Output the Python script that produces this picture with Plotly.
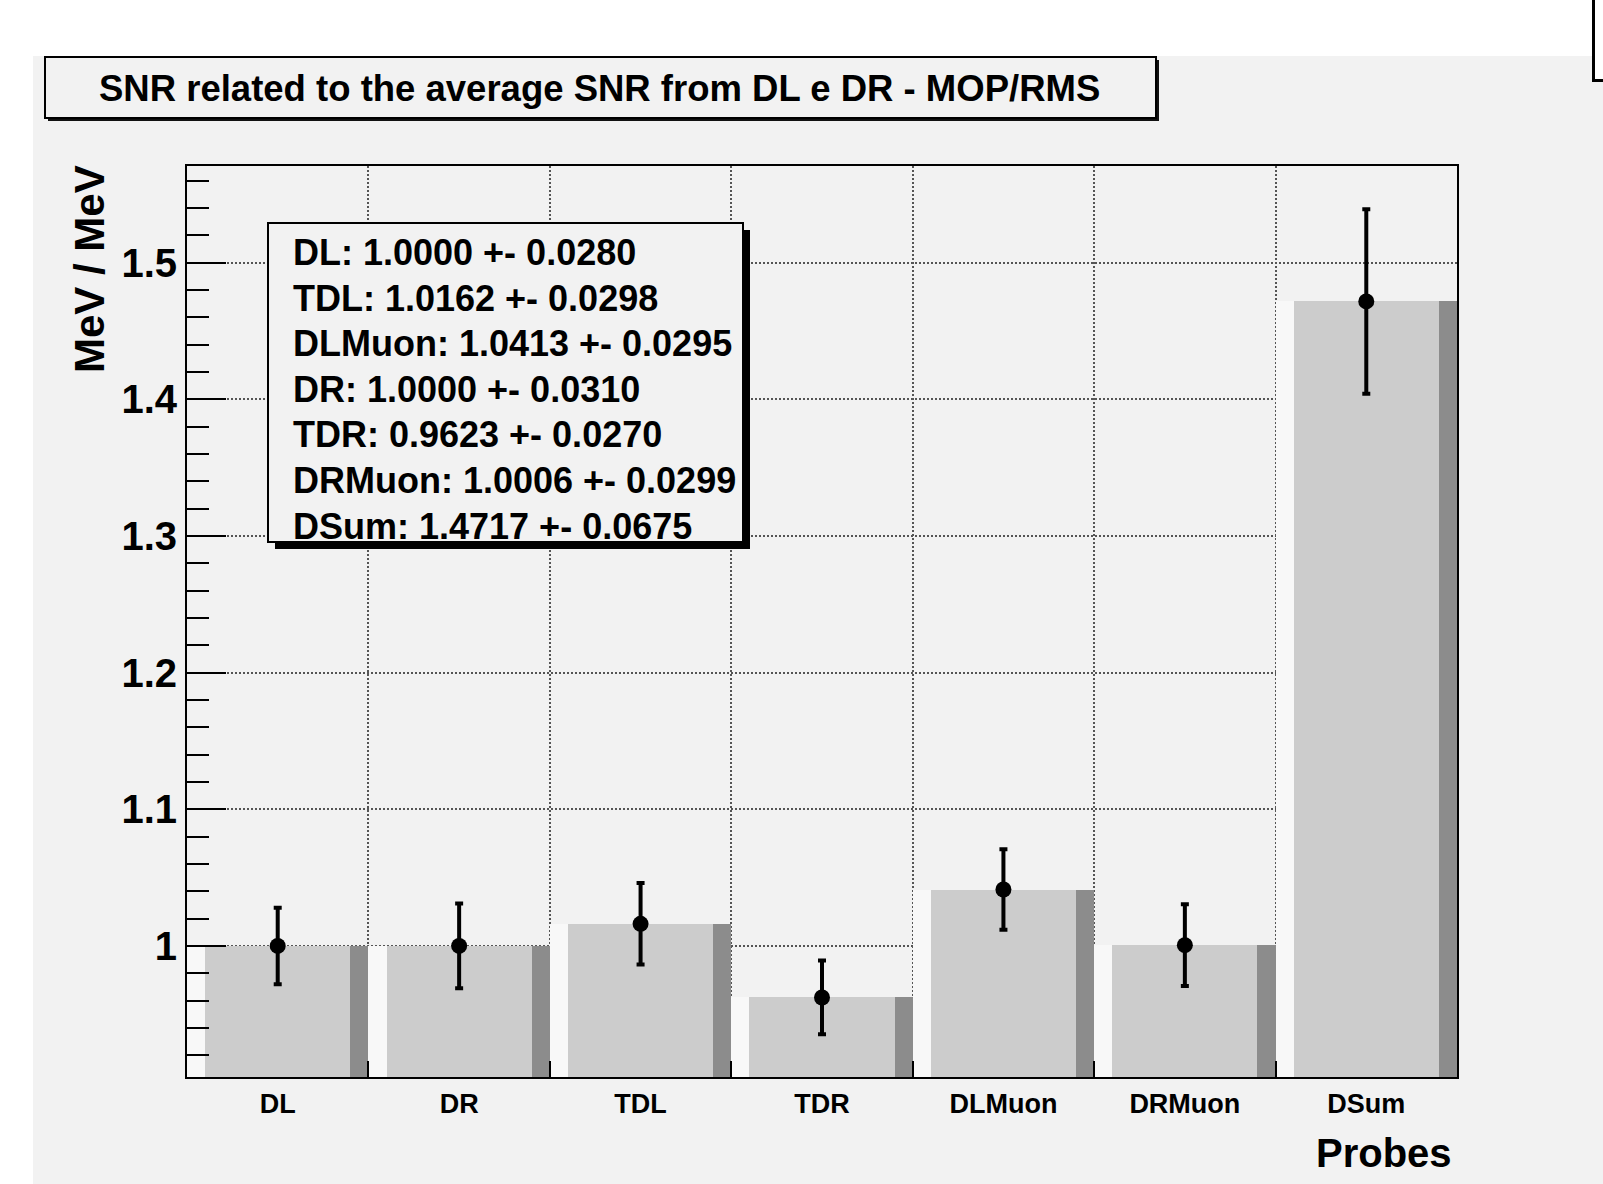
import plotly.graph_objects as go

# ---------------- data ----------------
categories = ["DL", "DR", "TDL", "TDR", "DLMuon", "DRMuon", "DSum"]
values = [1.0000, 1.0000, 1.0162, 0.9623, 1.0413, 1.0006, 1.4717]
errors = [0.0280, 0.0310, 0.0298, 0.0270, 0.0295, 0.0299, 0.0675]
stats_order = ["DL", "TDL", "DLMuon", "DR", "TDR", "DRMuon", "DSum"]
y_range = [0.9041, 1.5708]
title_text = "SNR related to the average SNR from DL e DR - MOP/RMS"
y_title = "MeV / MeV"
x_title = "Probes"

# ---------------- layout geometry (pixels) ----------------
W, H = 1603, 1184
L, R, T, B = 187, 1457, 166, 1077
PW, PH = R - L, B - T


def px(x):
    return (x - L) / PW


def py(y):
    return (B - y) / PH


BG = "#f2f2f2"
FONT = "Liberation Sans, Arial, Helvetica, sans-serif"

n = len(categories)
centers = [i + 0.5 for i in range(n)]
edges_inner = [i for i in range(1, n)]

fig = go.Figure()

# ROOT-style 3D bars: light left strip, main body, dark right strip
fig.add_trace(go.Bar(x=[i + 0.05 for i in range(n)], y=values, width=0.1,
                     marker=dict(color="#f8f8f8", line=dict(width=0)),
                     hoverinfo="skip", showlegend=False))
fig.add_trace(go.Bar(x=centers, y=values, width=0.8,
                     marker=dict(color="#cccccc", line=dict(width=0)),
                     showlegend=False))
fig.add_trace(go.Bar(x=[i + 0.95 for i in range(n)], y=values, width=0.1,
                     marker=dict(color="#8c8c8c", line=dict(width=0)),
                     hoverinfo="skip", showlegend=False))

fig.add_trace(go.Scatter(
    x=centers, y=values, mode="markers",
    marker=dict(color="black", size=16, symbol="circle"),
    error_y=dict(type="data", array=errors, visible=True,
                 color="black", thickness=4, width=4),
    showlegend=False))

shapes = [
    # grey canvas
    dict(type="rect", xref="paper", yref="paper",
         x0=px(33), x1=px(W + 20), y0=py(56), y1=py(H + 20),
         fillcolor=BG, line=dict(width=0), layer="below"),
    # cut-off box in top-right corner
    dict(type="rect", xref="paper", yref="paper",
         x0=px(1593.5), x1=px(W + 20), y0=py(80.5), y1=py(-20),
         fillcolor="white", line=dict(color="black", width=3), layer="above"),
    # title box shadow + box
    dict(type="rect", xref="paper", yref="paper",
         x0=px(48), x1=px(1159), y0=py(121), y1=py(60),
         fillcolor="#111111", line=dict(width=0), layer="above"),
    dict(type="rect", xref="paper", yref="paper",
         x0=px(45), x1=px(1156), y0=py(118), y1=py(57),
         fillcolor=BG, line=dict(color="black", width=2), layer="above"),
    # stats box shadow + box
    dict(type="rect", xref="paper", yref="paper",
         x0=px(275), x1=px(750), y0=py(549), y1=py(230),
         fillcolor="black", line=dict(width=0), layer="above"),
    dict(type="rect", xref="paper", yref="paper",
         x0=px(268), x1=px(743), y0=py(542), y1=py(223),
         fillcolor=BG, line=dict(color="black", width=2), layer="above"),
]

lookup = {c: (v, e) for c, v, e in zip(categories, values, errors)}
stats_lines = [f"{c}: {lookup[c][0]:.4f} +- {lookup[c][1]:.4f}" for c in stats_order]

annotations = [
    dict(text=title_text, xref="paper", yref="paper", x=px(599), y=py(89),
         xanchor="center", yanchor="middle", showarrow=False,
         font=dict(family=FONT, size=36.5, color="black", weight=700)),
    dict(text=y_title, xref="paper", yref="paper", x=px(89), y=py(163),
         xanchor="center", yanchor="top", textangle=-90, showarrow=False,
         font=dict(family=FONT, size=42, color="black", weight=700)),
    dict(text=x_title, xref="paper", yref="paper", x=px(1454), y=py(1153),
         xanchor="right", yanchor="middle", showarrow=False,
         font=dict(family=FONT, size=40, color="black", weight=700)),
]

# stats box lines (one annotation per line, ROOT-like line spacing)
for i, line in enumerate(stats_lines):
    baseline = 265 + 45.6 * i
    annotations.append(dict(
        text=line, xref="paper", yref="paper", x=px(291), y=py(baseline - 12.5),
        xanchor="left", yanchor="middle", align="left", showarrow=False,
        font=dict(family=FONT, size=36, color="black", weight=700)))

fig.update_layout(
    width=W, height=H,
    margin=dict(l=L, r=W - R, t=T, b=H - B, pad=0),
    paper_bgcolor="white", plot_bgcolor=BG,
    barmode="overlay", bargap=0,
    shapes=shapes, annotations=annotations,
    font=dict(family=FONT, color="black"),
    xaxis=dict(range=[0, n], tickmode="array", tickvals=centers, ticktext=categories,
               ticks="", showgrid=False, zeroline=False,
               showline=True, mirror=True, linecolor="black", linewidth=2,
               tickfont=dict(family=FONT, size=27, color="black", weight=700),
               ticklabelstandoff=2,
               minor=dict(tickmode="array", tickvals=edges_inner, ticks="inside",
                          ticklen=16, tickwidth=2, tickcolor="black",
                          showgrid=True, gridcolor="#555555", gridwidth=2,
                          griddash="2px,2px")),
    yaxis=dict(range=y_range, tick0=0, dtick=0.1, ticks="inside", ticklen=39,
               tickwidth=2, tickcolor="black", showgrid=True, gridcolor="#555555",
               gridwidth=2, griddash="2px,2px", zeroline=False,
               showline=True, mirror=True, linecolor="black", linewidth=2,
               tickfont=dict(family=FONT, size=40, color="black", weight=700),
               minor=dict(dtick=0.02, ticks="inside", ticklen=22, tickwidth=2,
                          tickcolor="black", showgrid=False)),
)

fig.write_html("out.html")
